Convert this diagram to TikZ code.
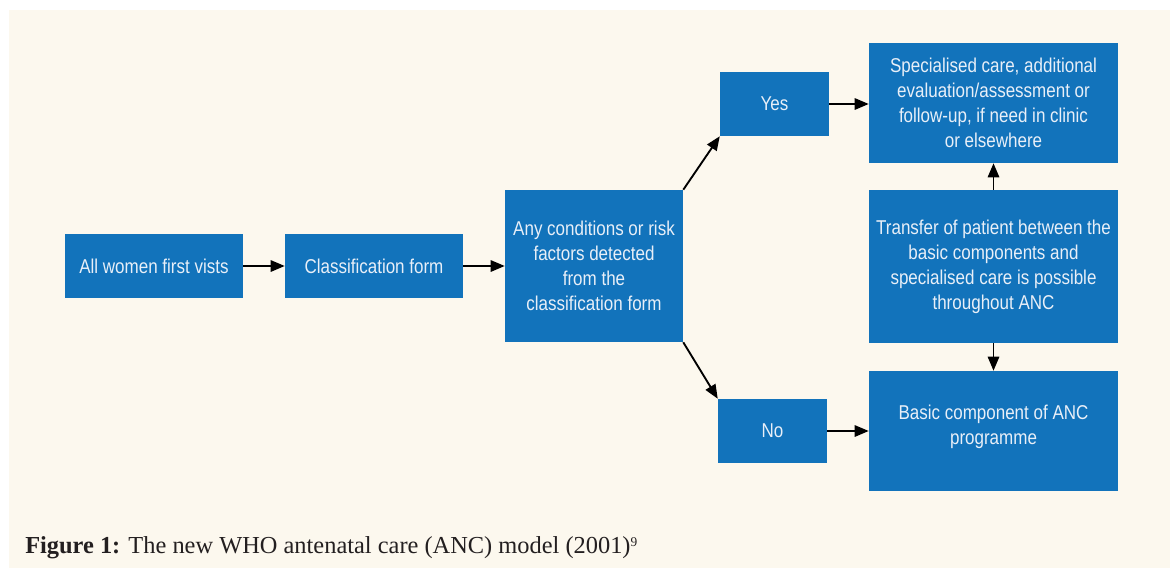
\documentclass[tikz,border=0pt]{standalone}
\usepackage{fontspec}
\setmainfont{Liberation Serif}
\newfontfamily\boxfont[FakeStretch=0.85]{Liberation Sans}
\usetikzlibrary{arrows.meta}

\definecolor{cream}{HTML}{FCF8EE}
\definecolor{boxblue}{HTML}{1273BB}
\definecolor{boxtext}{HTML}{E8EFF8}
\definecolor{captext}{HTML}{231F20}

\tikzset{
  box/.style={fill=boxblue, text=boxtext, align=center, inner sep=0pt,
    font=\boxfont\fontsize{15}{18.75}\selectfont},
  smallbox/.style={box, minimum width=133.5pt, minimum height=48pt},
  tallbox/.style={box, minimum width=133.5pt, minimum height=114pt},
  answer/.style={box, minimum width=81.75pt, minimum height=48pt},
  widebox/.style={box, minimum width=186.75pt, minimum height=90pt},
  flow/.style={-{Triangle[length=10.5pt,width=8.5pt]}, line width=1.4pt, black}
}

\begin{document}
\begin{tikzpicture}[x=0.75pt,y=-0.75pt]

%Background
\useasboundingbox (0,0) rectangle (1170,568);
\fill [cream] (9,10) rectangle (1170,568);

%Boxes
\node [smallbox] (first) at (154,266) {All women first vists};
\node [smallbox] (form)  at (374,266) {Classification form};
\node [tallbox]  (risk)  at (594,266) {Any conditions or risk\\factors detected\\from the\\classification form};
\node [answer]   (yes)   at (774.5,104) {Yes};
\node [answer]   (no)    at (772.5,431) {No};
\node [widebox]  (special) at (993.5,103) {Specialised care, additional\\evaluation/assessment or\\follow-up, if need in clinic\\or elsewhere};
\node [widebox, minimum height=114.75pt] (transfer) at (993.5,266.5) {Transfer of patient between the\\basic components and\\specialised care is possible\\throughout ANC};
\node [widebox, text depth=10pt] (basic) at (993.5,431) {Basic component of ANC\\programme};

%Arrows
\draw [flow] (first.east) -- (form.west);
\draw [flow] (form.east) -- (risk.west);
\draw [flow] (risk.north east) -- (yes.south west);
\draw [flow] (risk.south east) -- (no.north west);
\draw [flow] (yes.east) -- (yes.east -| special.west);
\draw [flow] (no.east) -- (no.east -| basic.west);
\draw [flow] (transfer.north) -- (special.south);
\draw [flow] (transfer.south) -- (basic.north);

%Caption
\node [anchor=base west, inner sep=0pt, text=captext, font=\fontsize{18.3}{20}\selectfont] (caption) at (25,553)
  {\textbf{Figure 1:} The new WHO antenatal care (ANC) model (2001)\raisebox{5pt}{\fontsize{10}{10}\selectfont 9}};

\end{tikzpicture}
\end{document}
